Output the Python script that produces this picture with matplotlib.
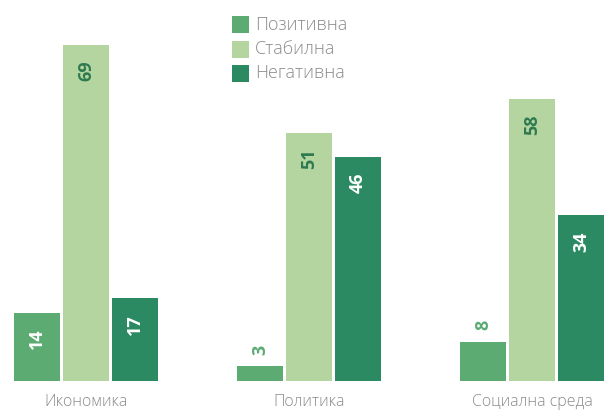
import matplotlib
matplotlib.use("Agg")
import matplotlib.pyplot as plt
from matplotlib.patches import Rectangle

categories = ["Икономика", "Политика", "Социална среда"]
series_names = ["Позитивна", "Стабилна", "Негативна"]
positive = [14, 3, 8]
stable = [69, 51, 58]
negative = [17, 46, 34]

colors = ["#5cab73", "#b4d59f", "#2b8a62"]
label_colors = ["white", "#2e7a50", "white"]

W, H = 606, 412
fig = plt.figure(figsize=(W / 100, H / 100), dpi=100)

base_px = 381
px_per_unit = 4.87
ymax = 76
ax_h = ymax * px_per_unit
group_gap = 223
c0 = 86
ax = fig.add_axes([0, (H - base_px) / H, 1, ax_h / H])
ax.set_xlim(-c0 / group_gap, (W - c0) / group_gap)
ax.set_ylim(0, ymax)
ax.axis("off")

font = "Open Sans"
bw = 46 / group_gap
off = 49 / group_gap
series = [positive, stable, negative]
for si, vals in enumerate(series):
    for ci, v in enumerate(vals):
        x = ci + (si - 1) * off
        ax.bar(x, v, width=bw, color=colors[si], linewidth=0)
        if v >= 10:
            ax.text(x, v - 26 / px_per_unit, str(v), rotation=90, ha="center", va="center",
                    color=label_colors[si], fontsize=13, fontweight="bold", family=font)
        else:
            ax.text(x, v + 17 / px_per_unit, str(v), rotation=90, ha="center", va="center",
                    color=colors[si], fontsize=13, fontweight="bold", family=font)

for ci, c in enumerate(categories):
    ax.text(ci, -21 / px_per_unit, c, ha="center", va="center", color="#8a8a8a",
            fontsize=11.5, family=font, fontweight="light", clip_on=False)

# legend
for si, name in enumerate(series_names):
    yc = 24.5 + si * 24.5
    fig.patches.append(Rectangle((232 / W, 1 - (yc + 8.5) / H), 17 / W, 17 / H,
                                 transform=fig.transFigure, color=colors[si], linewidth=0))
    fig.text(255 / W, 1 - yc / H, name, ha="left", va="center", color="#8a8a8a",
             fontsize=13, family=font, fontweight="light")

fig.savefig("out.png", dpi=100, facecolor="white")
